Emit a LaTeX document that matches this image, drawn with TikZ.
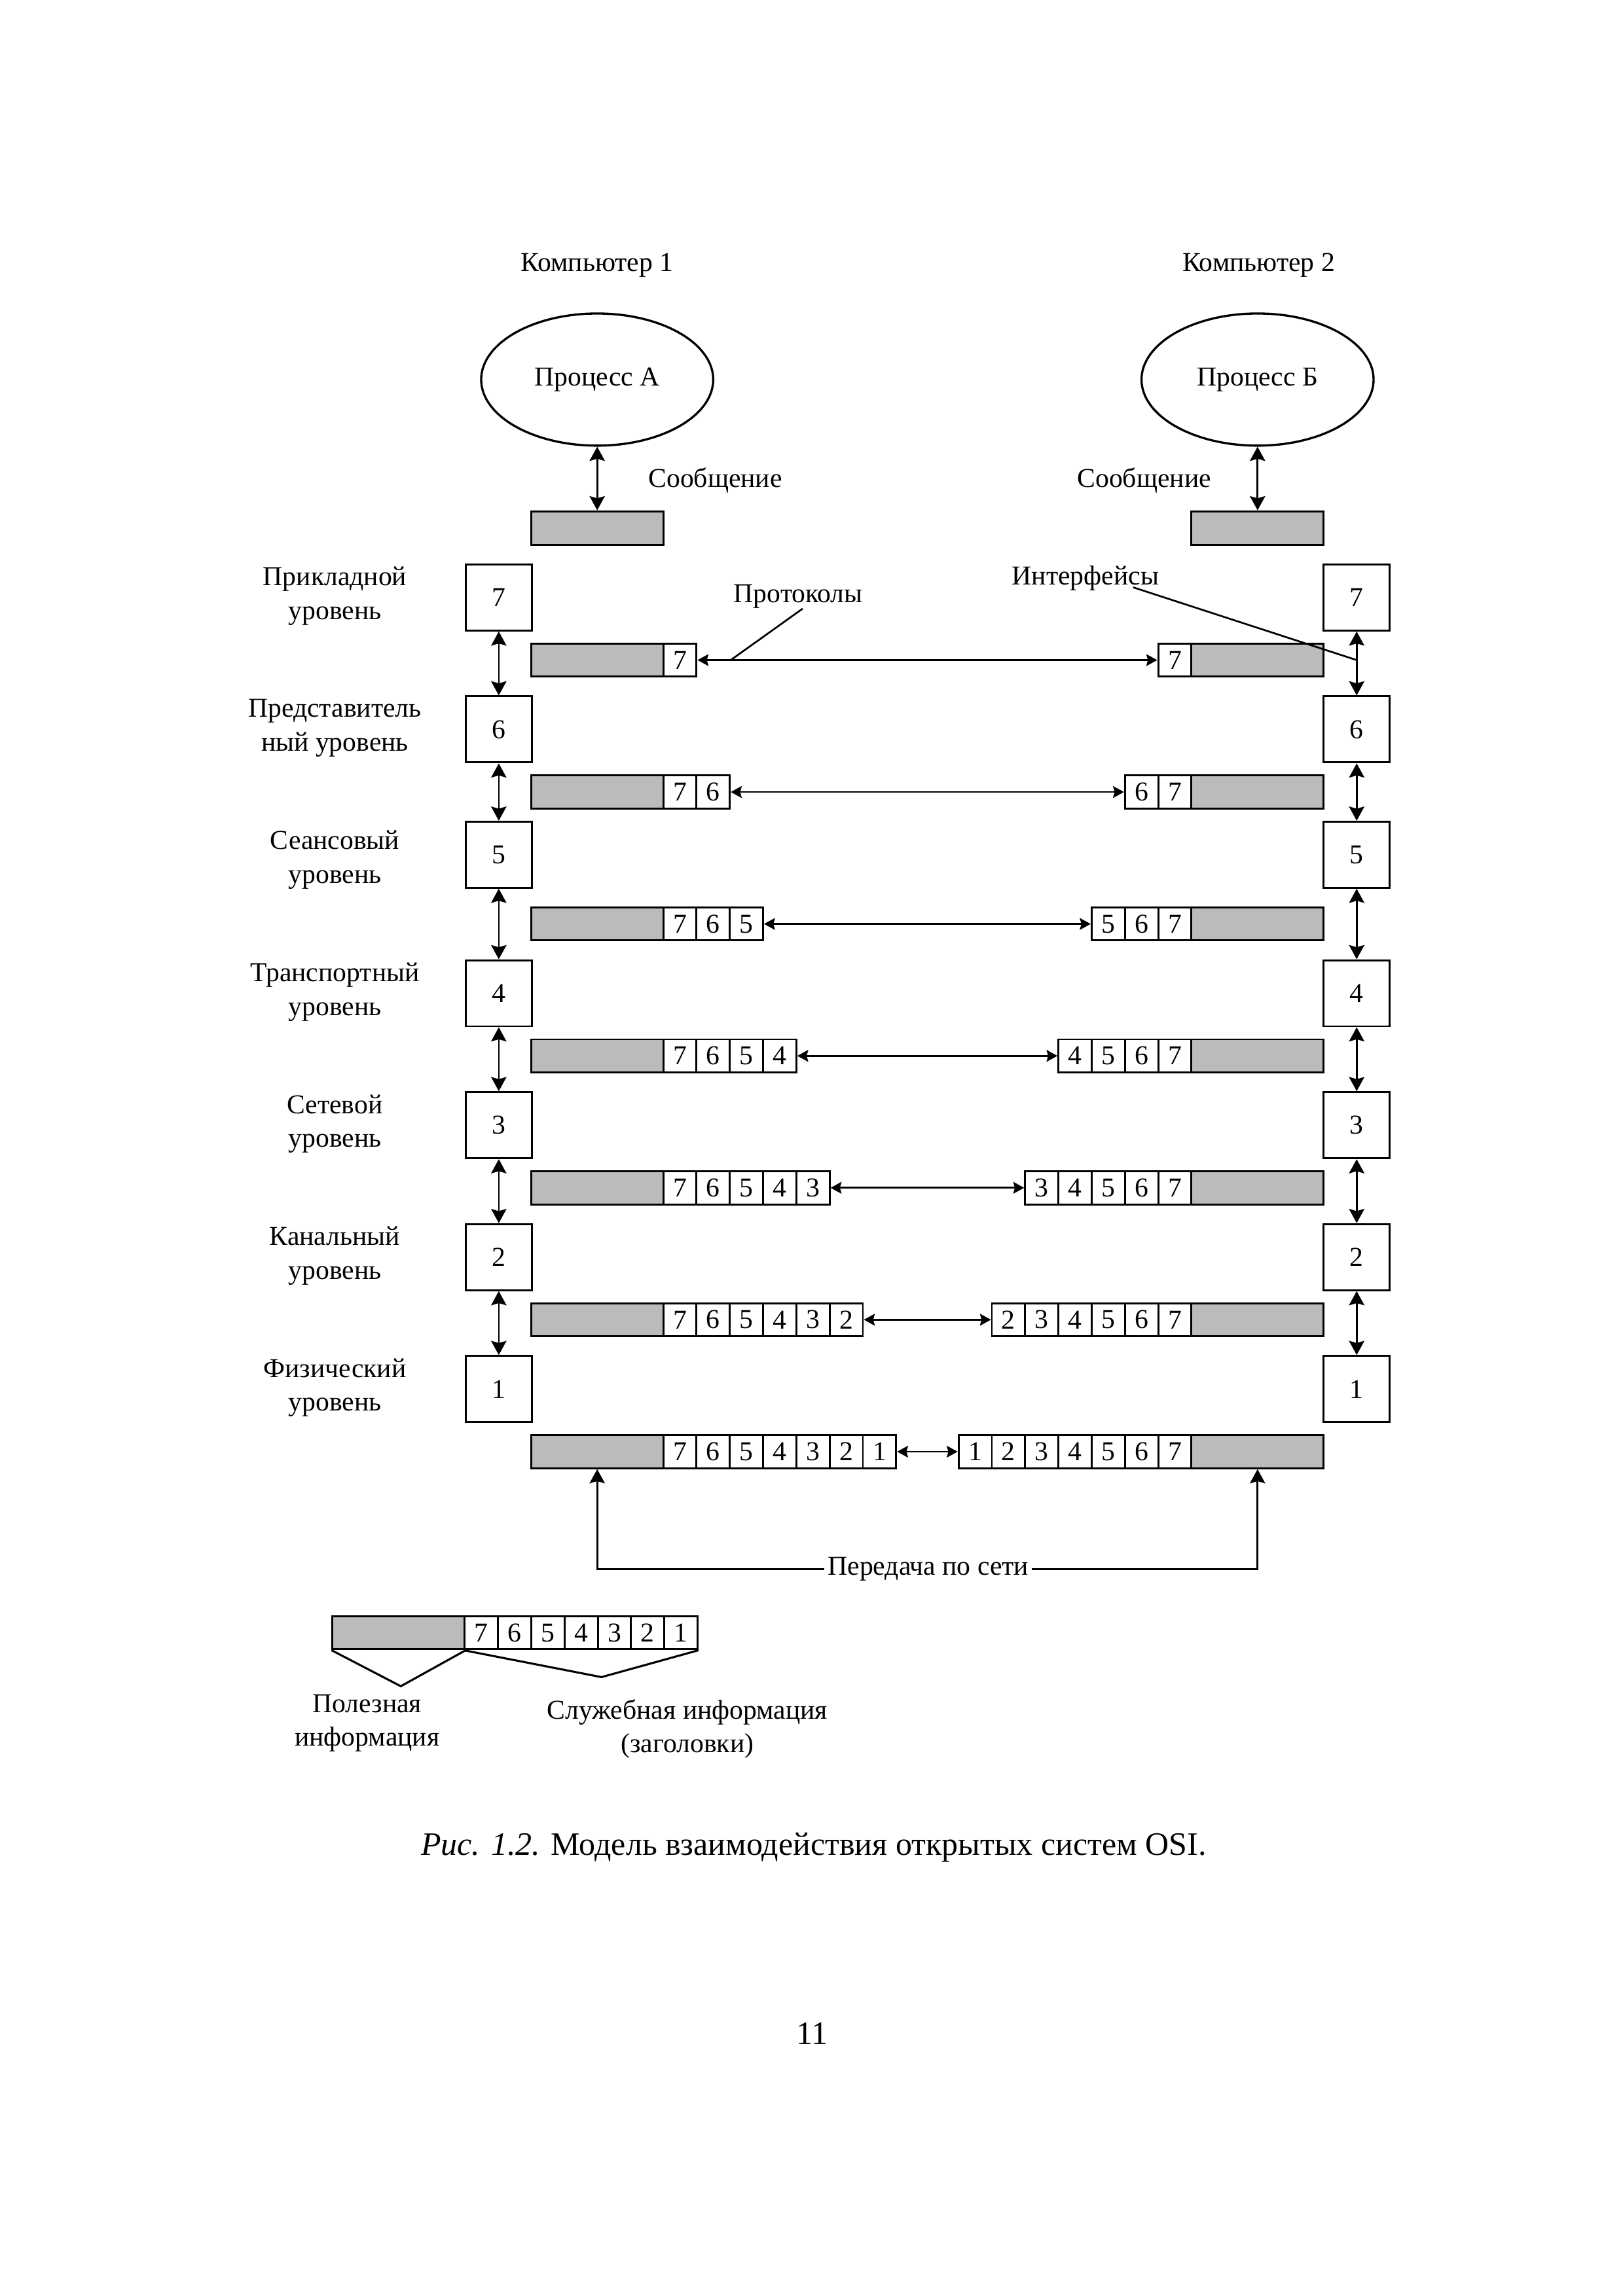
\documentclass[tikz,border=0pt]{standalone}
\usepackage{fontspec}
\setmainfont{Liberation Serif}
\usetikzlibrary{arrows.meta,shapes.geometric,calc}
\definecolor{pkt}{RGB}{187,187,187}
\newcommand\ud{0.5384pt}
\begin{document}
\begin{tikzpicture}[x=0.5384pt,y=-0.5384pt,
  font=\fontsize{10}{12.4}\selectfont,
  lay/.style={draw,line width=0.7pt,fill=white,minimum width={45*\ud},minimum height={45*\ud},inner sep=0pt},
  pay/.style={draw,line width=0.7pt,fill=pkt,minimum width={90*\ud},minimum height={22.5*\ud},inner sep=0pt},
  cell/.style={draw,line width=0.7pt,fill=white,minimum width={22.65*\ud},minimum height={22.5*\ud},inner sep=0pt},
  proc/.style={draw,ellipse,line width=0.8pt,minimum width={158*\ud},minimum height={90*\ud},inner sep=0pt},
  lbl/.style={align=center,inner sep=0pt},
  ar/.style={line width=0.65pt,{Stealth[length=5.2pt,width=5.6pt,inset=0.8pt]}-{Stealth[length=5.2pt,width=5.6pt,inset=0.8pt]}},
  pr/.style={line width=0.65pt,{Stealth[length=4pt,width=4.3pt,inset=0.6pt]}-{Stealth[length=4pt,width=4.3pt,inset=0.6pt]}},
  arone/.style={line width=0.65pt,-{Stealth[length=5.2pt,width=5.6pt,inset=0.8pt]}},
  lead/.style={line width=0.65pt}
]
\useasboundingbox (0,0) rectangle (1105,1563.7);

% computers and processes
\node (c1) at (406.6,180.5) {Компьютер 1};
\node (c2) at (857,180.5) {Компьютер 2};
\node[proc] (pA) at (406.6,258.5) {Процесс А};
\node[proc] (pB) at (856.2,258.5) {Процесс Б};
\node[pay,minimum height={23*\ud}] (mA) at (406.6,359.7) {};
\node[pay,minimum height={23*\ud}] (mB) at (856.2,359.7) {};
\draw[ar] (pA.south) -- (mA.north);
\draw[ar] (pB.south) -- (mB.north);
\node (sA) at (487,327) {Сообщение};
\node (sB) at (779,327) {Сообщение};

% layers
\foreach \k/\dy/\txt in {7/0/{Прикладной\\уровень},6/0/{Представитель\\ный уровень},5/4.5/{Сеансовый\\уровень},4/0/{Транспортный\\уровень},3/0/{Сетевой\\уровень},2/0/{Канальный\\уровень},1/0/{Физический\\уровень}}{
  \pgfmathsetmacro\ly{438.3+89.85*(7-\k)-31.4-\dy}
  \node[lay] (L\k) at (339.6,\ly) {\k};
  \node[lay] (R\k) at (923.7,\ly) {\k};
  \pgfmathsetmacro\ty{406+89.85*(7-\k)}
  \node[lbl] (T\k) at (228,\ty) {\txt};
}
\foreach \k/\m in {7/6,6/5,5/4,4/3,3/2,2/1}{
  \draw[ar] (L\k.south) -- (L\m.north);
  \draw[ar] (R\k.south) -- (R\m.north);
}

% packets
\foreach \k in {7,...,1}{
  \pgfmathsetmacro\yk{438.3+89.85*(7-\k)+11.25}
  \node[pay] (pL\k) at (406.6,\yk) {};
  \node[pay] (pR\k) at (856.2,\yk) {};
  \foreach \j in {7,...,\k}{
    \pgfmathsetmacro\cxl{451.6+22.65*(7-\j+0.5)}
    \pgfmathsetmacro\cxr{811.2-22.65*(7-\j+0.5)}
    \node[cell] (cL\k-\j) at (\cxl,\yk) {\j};
    \node[cell] (cR\k-\j) at (\cxr,\yk) {\j};
  }
  \draw[pr] (cL\k-\k.east) -- (cR\k-\k.west);
}

% protocols / interfaces
\node (prot) at (543.5,406) {Протоколы};
\coordinate (protA) at (546.5,414.5);
\coordinate (protB) at (497.5,449.55);
\draw[lead] (protA) -- (protB);
\node (intf) at (739,394) {Интерфейсы};
\coordinate (intA) at (771.5,400);
\coordinate (intB) at (923.7,449.55);
\draw[lead] (intA) -- (intB);

% network
\node[inner sep=1pt] (net) at (632,1068.6) {Передача по сети};
\draw[arone] (net.west) -| (pL1.south);
\draw[arone] (net.east) -| (pR1.south);

% legend
\node[pay] (lg) at (271.4,1112) {};
\foreach \j in {7,...,1}{
  \pgfmathsetmacro\cx{316.4+22.65*(7-\j+0.5)}
  \node[cell] (lg\j) at (\cx,1112) {\j};
}
\coordinate (ap1) at (272.9,1148.4);
\coordinate (ap2) at (409.5,1142.2);
\draw[line width=0.75pt] (lg.south west) -- (ap1) -- (lg.south east);
\draw[line width=0.75pt] (lg7.south west) -- (ap2) -- (lg1.south east);
\node[lbl] (useful) at (250,1173.5) {Полезная\\информация};
\node[lbl] (service) at (468,1177.5) {Служебная информация\\(заголовки)};

% caption and page number
\node (cap) at (554,1258) {\fontsize{12}{14}\selectfont\textit{Рис. 1.2.} Модель взаимодействия открытых систем OSI.};
\node (pg) at (553,1385) {\fontsize{12}{14}\selectfont 11};
\end{tikzpicture}
\end{document}
